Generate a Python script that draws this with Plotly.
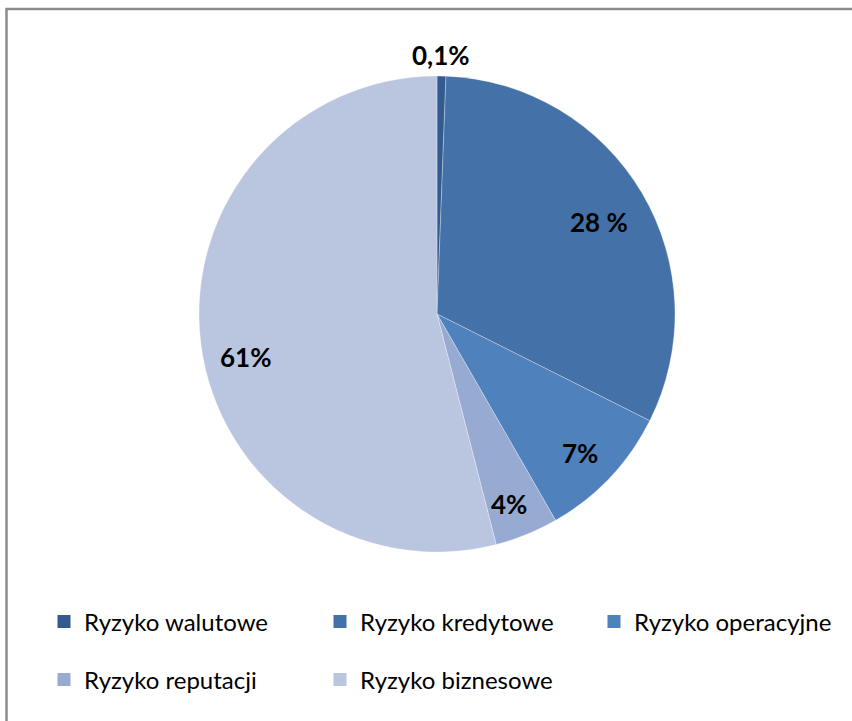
import plotly.graph_objects as go

categories = ["Ryzyko walutowe", "Ryzyko kredytowe", "Ryzyko operacyjne", "Ryzyko reputacji", "Ryzyko biznesowe"]
values = [0.6, 31.8, 9.3, 4.3, 54.0]
value_labels = ["0,1%", "28 %", "7%", "4%", "61%"]
colors = ["#335B8F", "#4472A8", "#4F81BD", "#97AAD2", "#BAC6E0"]

W, H = 852, 721
cx, cy, r = 437, 314, 238

fig = go.Figure()
fig.add_trace(go.Pie(
    labels=categories, values=values, sort=False, direction="clockwise", rotation=0,
    marker=dict(colors=colors, line=dict(color="rgba(255,255,255,0.5)", width=0.6)),
    textinfo="none", hoverinfo="label+percent", showlegend=False,
    domain=dict(x=[(cx - r) / W, (cx + r) / W], y=[1 - (cy + r) / H, 1 - (cy - r) / H]),
))

# legend entries: one legend per entry, arranged in a 3+2 grid
legend_ids = ["legend", "legend2", "legend3", "legend4", "legend5"]
for cat, col, lid in zip(categories, colors, legend_ids):
    fig.add_trace(go.Scatter(
        x=[None], y=[None], mode="markers", name=cat,
        marker=dict(symbol="square", size=13, color=col),
        legend=lid, showlegend=True,
    ))

label_pos = [(441, 55), (599, 222), (580, 453), (509, 504), (245, 357)]
for txt, (px, py) in zip(value_labels, label_pos):
    fig.add_annotation(x=px / W, y=1 - py / H, xref="paper", yref="paper", text="<b>%s</b>" % txt,
                       xanchor="center", yanchor="middle",
                       showarrow=False, font=dict(family="Lato", size=26, color="#000000"))

leg_common = dict(orientation="h", xanchor="left", yanchor="middle", itemwidth=30,
                  font=dict(family="Lato", size=24, color="#000000"), bgcolor="rgba(0,0,0,0)")
grid = [(44, 622), (320, 622), (594, 622), (44, 680), (320, 680)]
legends = {}
for lid, (gx, gy) in zip(legend_ids, grid):
    legends[lid] = dict(x=gx / W, y=1 - gy / H, **leg_common)

fig.update_layout(
    width=W, height=H, margin=dict(l=0, r=0, t=0, b=0),
    paper_bgcolor="white", plot_bgcolor="white",
    xaxis=dict(visible=False), yaxis=dict(visible=False),
    shapes=[dict(type="rect", xref="paper", yref="paper", x0=6.5 / W, x1=1.05, y0=-0.05, y1=1 - 9 / H,
                 line=dict(color="#8C8C8C", width=2.5))],
    **legends,
)
fig.write_html("out.html")
